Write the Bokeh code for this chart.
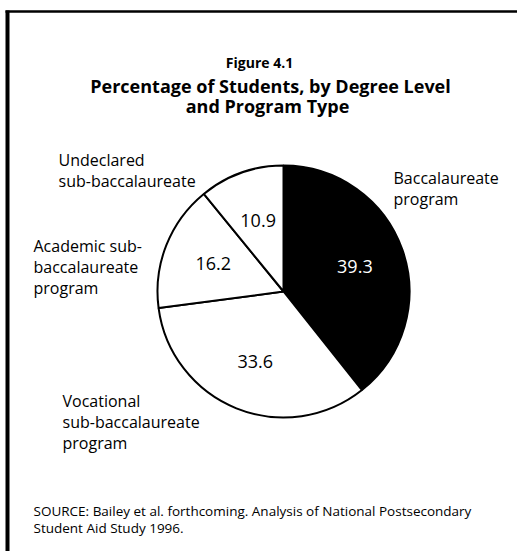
import numpy as np
from bokeh.plotting import figure
from bokeh.models import Range1d, ColumnDataSource
from bokeh.core.properties import value
from bokeh.embed import file_html
from bokeh.resources import INLINE

# ---- data ----
categories = ["Baccalaureate program",
              "Vocational sub-baccalaureate program",
              "Academic sub-baccalaureate program",
              "Undeclared sub-baccalaureate"]
label_lines = [["Baccalaureate", "program"],
               ["Vocational", "sub-baccalaureate", "program"],
               ["Academic sub-", "baccalaureate", "program"],
               ["Undeclared", "sub-baccalaureate"]]
percentages = [39.3, 33.6, 16.2, 10.9]
value_labels = ["39.3", "33.6", "16.2", "10.9"]
title_lines = ["Figure 4.1",
               "Percentage of Students, by Degree Level",
               "and Program Type"]
source_lines = ["SOURCE: Bailey et al. forthcoming. Analysis of National Postsecondary",
                "Student Aid Study 1996."]

# ---- styles / layout ----
slice_colors = ["#000000", "#ffffff", "#ffffff", "#ffffff"]
value_text_colors = ["#ffffff", "#000000", "#000000", "#000000"]
FONT = "Open Sans"
W, H = 517, 551


def X(px):
    return px


def Y(py):
    return H - py


p = figure(width=W, height=H, output_backend="svg", toolbar_location=None,
           x_range=Range1d(0, W), y_range=Range1d(0, H), min_border=0,
           background_fill_color="white", border_fill_color="white")
p.axis.visible = False
p.grid.visible = False
p.outline_line_color = None

# frame lines
p.line(x=[X(7), X(7)], y=[Y(10), Y(551)], line_color="black", line_width=4)
p.line(x=[X(5), X(517)], y=[Y(11), Y(11)], line_color="black", line_width=2.5)

# pie
cx, cy, R = X(283), Y(291), 126
vals = np.array(percentages)
cum = np.concatenate([[0], np.cumsum(vals)]) / vals.sum()
start = np.pi / 2 - 2 * np.pi * cum[:-1]
end = np.pi / 2 - 2 * np.pi * cum[1:]
mid = (start + end) / 2
src = ColumnDataSource(dict(cat=categories, start=start, end=end, color=slice_colors,
                            lx=cx + 0.6 * R * np.cos(mid), ly=cy + 0.6 * R * np.sin(mid),
                            lab=value_labels, tc=value_text_colors))
p.wedge(x=cx, y=cy, radius=R, start_angle="start", end_angle="end", direction="clock",
        fill_color="color", line_color="black", line_width=2, source=src)
p.text(x="lx", y="ly", text="lab", text_color="tc", text_font=value(FONT),
       text_font_size="18px", text_align="center", text_baseline="middle", source=src)

# category labels
anchors = [(393, 177), (62, 400), (33, 245), (58, 159)]
tx, ty, tt = [], [], []
for (ax, ay), lines in zip(anchors, label_lines):
    for i, ln in enumerate(lines):
        tx.append(X(ax))
        ty.append(Y(ay + 21 * i))
        tt.append(ln)
p.text(x=tx, y=ty, text=tt, text_font=value(FONT), text_font_size="16px",
       text_color="black", text_align="left", text_baseline="alphabetic")

# titles
p.text(x=[X(259)], y=[Y(62)], text=[title_lines[0]], text_font=value(FONT),
       text_font_size="14px", text_font_style="bold", text_align="center",
       text_baseline="alphabetic", text_color="black")
p.text(x=[X(270), X(267)], y=[Y(85), Y(105)], text=title_lines[1:], text_font=value(FONT),
       text_font_size="18px", text_font_style="bold", text_align="center",
       text_baseline="alphabetic", text_color="black")

# source
p.text(x=[X(33), X(33)], y=[Y(510), Y(527)], text=source_lines, text_font=value(FONT),
       text_font_size="13.5px", text_align="left", text_baseline="alphabetic", text_color="black")

open("out.html", "w").write(file_html(p, INLINE))
